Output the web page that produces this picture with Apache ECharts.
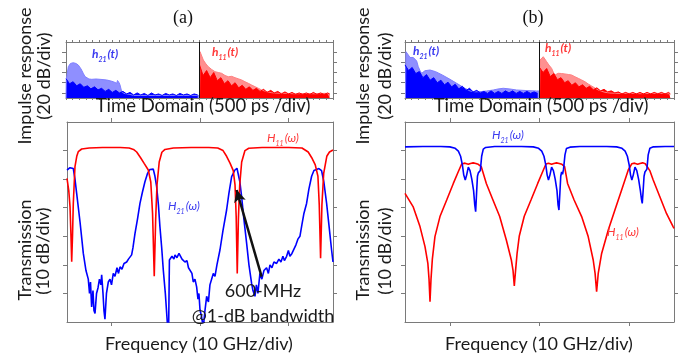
<!DOCTYPE html>
<html><head><meta charset="utf-8">
<script src="https://cdn.jsdelivr.net/npm/echarts@6/dist/echarts.min.js"></script>
<style>html,body{margin:0;padding:0;background:#fff}#c{width:689px;height:358px}</style>
</head><body><div id="c"></div><script>
// ---------- DATA ----------
// Time-domain impulse responses (x: time units 0..30, 500 ps/div; y: dB, 20 dB/div)
const tEnvA21 = [[0,-110],[0.03,-74.6],[0.26,-48.5],[0.5,-42.2],[0.82,-40.7],[1.12,-42.2],[1.38,-45.2],[1.69,-53],[1.94,-61.5],[2.13,-67.8],[2.33,-71.3],[2.58,-72.7],[2.89,-73.3],[3.37,-72.7],[3.82,-73.3],[4.27,-74],[4.57,-74.6],[4.94,-76.2],[5.31,-78],[5.7,-81.1],[5.79,-75.6],[5.88,-74.6],[5.98,-80.5],[6.07,-84.5],[6.26,-97.6],[6.52,-101],[6.82,-102],[7.19,-103],[7.6,-105],[15,-105]];
const tEnvA11 = [[15,-110],[15.06,-19],[15.43,-35.4],[15.73,-43.2],[15.99,-48.5],[16.37,-54],[16.74,-58.3],[17.11,-59.9],[17.49,-61.5],[17.87,-65.8],[18.24,-68.2],[18.62,-67.4],[18.99,-70.1],[19.36,-72.3],[19.74,-74.6],[20.11,-78],[20.48,-81.1],[20.86,-84.5],[21.24,-87.8],[21.61,-90.9],[21.99,-94.3],[22.55,-97.6],[23.11,-99.6],[23.82,-100.6],[24.61,-100.8],[25.73,-101.7],[26.85,-101.1],[27.98,-101.7],[29.1,-100.8],[29.66,-102]];
const tEnvB21 = [[0.05,-110],[0.11,-19],[0.37,-25.5],[0.56,-30.4],[0.75,-32],[0.93,-30.4],[1.11,-28.9],[1.3,-37.3],[1.48,-48.5],[1.67,-56],[1.86,-61.5],[2.04,-57.9],[2.23,-56.4],[2.79,-55],[3.42,-58.3],[4.16,-64.8],[5.02,-73.3],[5.76,-81.1],[6.5,-89],[7.25,-96.2],[7.8,-97.8],[8.36,-97.6],[9.11,-96.2],[9.84,-94.3],[10.37,-92.3],[10.96,-90.9],[11.71,-92.3],[12.45,-94.3],[13.49,-95.3],[14.68,-96.2],[14.94,-96.2]];
const tEnvB11 = [[15,-110],[15.05,-35.4],[15.16,-32],[15.42,-28.9],[15.61,-32.4],[15.8,-38.7],[16.05,-45.2],[16.35,-51.7],[16.53,-58.9],[16.72,-64.8],[16.91,-62.8],[17.09,-61.5],[17.47,-61.9],[17.84,-62.8],[18.21,-63.8],[18.58,-64.8],[18.95,-68.2],[19.32,-71.3],[19.7,-74.6],[20.07,-78],[20.44,-82.5],[20.81,-86.4],[21.18,-90.3],[21.55,-94.3],[21.93,-96.8],[22.3,-98.8],[22.85,-100.2],[23.97,-101.1],[25.08,-100.8],[26.2,-101.5],[27.31,-101.1],[28.43,-100.8],[29.54,-101.7]];
// noise-floor sample times
const tNoise21 = [0,0.4,0.8,1.2,1.6,2,2.4,2.8,3.2,3.6,4,4.4,4.8,5.2,5.6,6,6.4,6.8,7.2,7.6,8,8.4,8.8,9.2,9.6,10,10.4,10.8,11.2,11.6,12,12.4,12.8,13.2,13.6,14,14.4,14.8];
const tNoise11 = [15,15.4,15.8,16.2,16.6,17,17.4,17.8,18.2,18.6,19,19.4,19.8,20.2,20.6,21,21.4,21.8,22.2,22.6,23,23.4,23.8,24.2,24.6,25,25.4,25.8,26.2,26.6,27,27.4,27.8,28.2,28.6,29,29.4,29.6];
const nA21 = [-72,-82,-78,-86,-82,-89,-86,-92,-88,-94,-91,-97,-93,-99,-95,-100,-97,-102,-99,-104,-100,-104,-101,-105,-100,-104,-102,-105,-101,-104,-102,-105,-101,-104,-102,-105,-102,-104];
const nA11 = [-45,-66,-56,-70,-60,-76,-70,-82,-76,-86,-80,-90,-85,-93,-88,-95,-91,-97,-93,-99,-95,-100,-97,-102,-98,-102,-99,-103,-100,-103,-100,-103,-99,-103,-100,-103,-100,-102];
const nB21 = [-45,-56,-50,-62,-58,-70,-64,-75,-70,-80,-75,-84,-79,-88,-83,-92,-87,-95,-91,-98,-95,-100,-97,-101,-96,-101,-97,-101,-96,-100,-96,-101,-97,-101,-97,-101,-98,-101];
const nB11 = [-50,-60,-52,-68,-62,-74,-70,-80,-76,-85,-80,-88,-84,-91,-87,-94,-90,-96,-93,-98,-96,-100,-98,-102,-99,-102,-99,-102,-99,-102,-99,-102,-99,-102,-99,-102,-99,-102];

// Frequency responses (x: GHz 0..30, 10 GHz/div; y: dB, 10 dB/div)
const fA21 = [[0,-16.8],[0.1,-16.2],[0.34,-16],[0.71,-16.3],[0.9,-20],[1.09,-25],[1.47,-35],[1.84,-46],[2.14,-52],[2.4,-55],[2.54,-60],[2.65,-56],[2.78,-64.7],[2.93,-59],[3.04,-66],[3.16,-67],[3.33,-60],[3.5,-58],[3.66,-55],[3.83,-57],[3.91,-53.5],[4.06,-60],[4.17,-66],[4.28,-69],[4.45,-60],[4.66,-56],[4.85,-55],[5.02,-57],[5.22,-53],[5.41,-54],[5.64,-51],[5.81,-53],[5.98,-50.7],[6.2,-51.5],[6.43,-49.5],[6.73,-49],[6.93,-48],[7.1,-48.5],[7.29,-46.5],[7.44,-44],[7.67,-39],[7.95,-34],[8.23,-28.5],[8.51,-24.5],[8.79,-20.9],[9.08,-18],[9.36,-16.6],[9.58,-16.2],[9.73,-16.5],[9.92,-19],[10.11,-22.6],[10.31,-29],[10.48,-36.6],[10.68,-44],[10.86,-51.8],[11.09,-60],[11.31,-70],[11.45,-76],[11.55,-48.3],[11.84,-47],[12.06,-48],[12.18,-46.5],[12.4,-47.5],[12.63,-46],[12.74,-46.5],[12.97,-48],[13.19,-47.5],[13.3,-49],[13.53,-48.5],[13.7,-51],[13.87,-50.6],[14.09,-53],[14.24,-56],[14.43,-55],[14.62,-57.7],[14.77,-62],[14.88,-60],[15.0,-65.8],[15.17,-68],[15.37,-72],[15.56,-66],[15.75,-61],[15.95,-63],[16.12,-57],[16.5,-53],[16.69,-54],[16.91,-50],[17.25,-44.8],[17.59,-38],[18.0,-30.8],[18.26,-25],[18.57,-19.1],[18.94,-16.8],[19.17,-16.2],[19.31,-16.6],[19.5,-21],[19.69,-26],[19.95,-34],[20.26,-42.5],[20.52,-50],[20.82,-56.5],[20.97,-59],[21.2,-61],[21.36,-57],[21.53,-60],[21.76,-53],[21.98,-55],[22.21,-52],[22.51,-51],[22.71,-53],[22.89,-50],[23.11,-51],[23.34,-49],[23.64,-49.5],[23.9,-48],[24.13,-49],[24.35,-47],[24.52,-48.5],[24.77,-47],[24.97,-45],[25.14,-47],[25.37,-46],[25.51,-46],[25.82,-43],[26.04,-41],[26.27,-40],[26.49,-36],[26.72,-32],[27.02,-28.5],[27.28,-23.5],[27.59,-19],[27.85,-17],[28.15,-16.6],[28.41,-16.3],[28.71,-17],[28.97,-21],[29.28,-28.5],[29.54,-36],[29.84,-44.8],[30,-49]];
const fA11 = [[0,-19.7],[0.2,-24],[0.34,-29.6],[0.45,-40],[0.53,-48.9],[0.62,-40],[0.71,-28.5],[0.9,-15.6],[1.1,-12],[1.27,-10.4],[1.66,-9.45],[2.5,-9.1],[4,-8.9],[6,-8.9],[7,-9.1],[7.5,-9.6],[7.86,-10.5],[8.3,-12.5],[8.7,-14.5],[9.17,-16.8],[9.45,-21],[9.65,-32],[9.84,-54],[10.0,-34],[10.15,-22],[10.4,-14],[10.7,-10.6],[11.05,-9.6],[12,-9.1],[14,-8.9],[16,-8.9],[17,-9.1],[17.6,-10],[18.0,-12],[18.4,-14.5],[18.75,-17],[18.95,-22],[19.08,-33],[19.2,-53],[19.33,-34],[19.48,-22],[19.7,-14],[20.07,-10],[20.5,-9.2],[22,-8.9],[25,-8.9],[26.5,-9.1],[27.2,-10.5],[27.6,-12.5],[28.0,-15],[28.3,-19],[28.45,-29],[28.6,-47.7],[28.75,-29],[28.95,-18],[29.3,-12],[29.6,-10.5],[30,-9.8]];
const fB21 = [[0,-8.7],[2,-8.6],[4,-8.6],[5,-8.7],[5.6,-9.2],[5.95,-10.2],[6.2,-12],[6.4,-15],[6.55,-18.5],[6.72,-20.3],[6.88,-18.5],[7.06,-15.8],[7.25,-17],[7.45,-20],[7.65,-24],[7.78,-29],[7.88,-31.4],[7.98,-25],[8.08,-19],[8.18,-17.8],[8.28,-18.5],[8.4,-17],[8.55,-12],[8.73,-9.5],[9.0,-8.9],[10,-8.6],[13,-8.6],[14.3,-8.7],[14.9,-9.2],[15.25,-10.2],[15.5,-12],[15.7,-15],[15.85,-18.5],[16.0,-20.3],[16.17,-18.5],[16.35,-15.8],[16.55,-17],[16.75,-20],[16.95,-24],[17.07,-29],[17.17,-30.8],[17.27,-25],[17.37,-19],[17.47,-17.5],[17.57,-18.3],[17.68,-16.5],[17.84,-11.5],[18.0,-9.3],[18.4,-8.8],[19.5,-8.6],[22.5,-8.6],[23.6,-8.7],[24.2,-9.2],[24.55,-10.2],[24.8,-12],[25.0,-15],[25.15,-18.5],[25.3,-20.3],[25.46,-18.5],[25.65,-15.8],[25.85,-17],[26.05,-20],[26.25,-24],[26.37,-27],[26.46,-28.5],[26.56,-24],[26.66,-19],[26.76,-17.5],[26.86,-18.2],[26.98,-16.5],[27.12,-11.5],[27.31,-9.2],[27.7,-8.7],[29,-8.6],[30,-8.6]];
const fB11 = [[0,-25],[0.19,-25.6],[0.9,-29.6],[1.67,-36.6],[2.23,-43.6],[2.55,-49.5],[2.68,-55],[2.79,-62.9],[2.9,-55],[3.05,-48],[3.34,-40.1],[3.9,-33.1],[4.65,-27.3],[5.39,-21.5],[5.94,-17.4],[6.32,-14.7],[6.69,-14.4],[7.06,-14.8],[7.3,-14.5],[7.6,-14.3],[7.9,-14.5],[8.17,-14.8],[8.5,-15.6],[9.07,-21.5],[9.81,-27.3],[10.56,-33.1],[11.3,-41.3],[11.86,-48.3],[12.05,-52],[12.19,-57.4],[12.33,-52],[12.5,-46],[12.74,-40],[13.3,-33],[14.05,-27.3],[14.8,-21.5],[15.35,-17.4],[15.72,-14.7],[16.0,-14.4],[16.35,-14.8],[16.6,-14.5],[16.9,-14.3],[17.2,-14.5],[17.5,-14.8],[17.8,-15.6],[18.13,-21.5],[18.86,-27.3],[19.7,-33.1],[20.43,-40.1],[20.99,-48.3],[21.2,-53],[21.37,-59.4],[21.55,-53],[21.93,-46],[22.67,-37.8],[23.41,-30.8],[24.16,-23.8],[24.9,-16.8],[25.3,-14.6],[25.6,-14.4],[25.95,-14.8],[26.2,-14.5],[26.5,-14.3],[26.8,-14.6],[27.3,-17],[27.68,-20.3],[28.41,-26.1],[29.16,-32],[29.9,-36.6],[30,-37.2]];

// axis ticks
const freqTicksX = [5, 15, 25];
const freqTicksY = [-60, -50, -40, -30, -20, -10];
const timeTicksY = [-100, -80, -60, -40, -20];
const timeDivider = 15;
// annotation arrow (GHz, dB): tail -> head
const arrowTail = [21.95, -54.1];
const arrowHead = [19.13, -23.8];

// ---------- CHART ----------
const zip = (xs, ys) => xs.map((x, i) => [x, ys[i]]);
const minorT = []; for (let v = 0; v <= 30.001; v += 0.75) minorT.push(+v.toFixed(2));
const AX = '#7a7a7a';
function xAx(g, pos, ticks, len) {
  return {type:'value', gridIndex:g, position:pos, min:0, max:30,
    axisLine:{show:true, onZero:false, lineStyle:{color:AX, width:1}},
    axisTick:{show:true, customValues:ticks, length:len, inside:false, lineStyle:{color:AX, width:1}},
    axisLabel:{show:false}, splitLine:{show:false}};
}
function yAx(g, pos, mn, mx, ticks, len) {
  return {type:'value', gridIndex:g, position:pos, min:mn, max:mx,
    axisLine:{show:true, onZero:false, lineStyle:{color:AX, width:1}},
    axisTick:{show:true, customValues:ticks, length:len, inside:false, lineStyle:{color:AX, width:1}},
    axisLabel:{show:false}, splitLine:{show:false}};
}
const grids = [
  {left:66, top:42, width:267, height:56},
  {left:67, top:122, width:266, height:200},
  {left:405, top:42, width:269, height:56},
  {left:405, top:122, width:269, height:200}
];
const xAxes = [], yAxes = [];
grids.forEach((g, i) => {
  const isTime = (i % 2 === 0);
  xAxes.push(xAx(i, 'bottom', isTime ? minorT : freqTicksX, isTime ? 2 : 4));
  xAxes.push(xAx(i, 'top', isTime ? minorT : freqTicksX, isTime ? 2 : 4));
  yAxes.push(yAx(i, 'left', isTime ? -110 : -70, 0, isTime ? timeTicksY : freqTicksY, 4));
  yAxes.push(yAx(i, 'right', isTime ? -110 : -70, 0, isTime ? timeTicksY : freqTicksY, 4));
});
function ser(g, data, color, width, fill, extra) {
  const s = {type:'line', xAxisIndex:2*g, yAxisIndex:2*g, data:data, symbol:'none', showSymbol:false,
    lineStyle:{color:color, width:width}, itemStyle:{color:color}, clip:true, silent:true, z:2};
  if (fill) s.areaStyle = {color:fill, opacity:1, origin:'start'};
  return Object.assign(s, extra || {});
}
const divider = {markLine:{symbol:'none', silent:true, label:{show:false}, lineStyle:{color:'#111', width:1, type:'solid'}, data:[{xAxis:timeDivider}]}};
const BL = '#0000ff', RD = '#ff0000', LBL = '#8f8fff', LRD = '#ff9090';
const series = [
  ser(0, tEnvA21, '#7f7fff', 1, LBL, divider),
  ser(0, zip(tNoise21, nA21), BL, 1, BL),
  ser(0, tEnvA11, '#ff8080', 1, LRD),
  ser(0, zip(tNoise11, nA11), RD, 1, RD),
  ser(1, fA21, BL, 1.6, null, {markLine:{silent:true, symbol:['none','arrow'], symbolSize:[9,12], label:{show:false},
      lineStyle:{color:'#111', width:2.5, type:'solid'}, data:[[{coord:arrowTail},{coord:arrowHead}]]}}),
  ser(1, fA11, RD, 1.6, null),
  ser(2, tEnvB21, '#7f7fff', 1, LBL, divider),
  ser(2, zip(tNoise21, nB21), BL, 1, BL),
  ser(2, tEnvB11, '#ff8080', 1, LRD),
  ser(2, zip(tNoise11, nB11), RD, 1, RD),
  ser(3, fB11, RD, 1.6, null),
  ser(3, fB21, BL, 1.6, null)
];
const SANS = 'Lato, "Open Sans", sans-serif';
function txt(x, y, s, size, rot, extra) {
  return Object.assign({type:'text', x:x, y:y, rotation:rot || 0, silent:true, z:100,
    style:{text:s, font:size + 'px ' + SANS, fill:'#1a1a1a', align:'center', verticalAlign:'middle'}}, extra || {});
}
function sub(x, y, main, subs, tail, color, bold, size) {
  const w = bold ? 'bold ' : '';
  return {type:'text', x:x, y:y, silent:true, z:100, style:{
    text:'{a|' + main + '}{b|' + subs + '}{a|' + tail + '}', fill:color, align:'left', verticalAlign:'top',
    rich:{a:{font:'italic ' + w + size + 'px ' + SANS, fill:color, verticalAlign:'bottom'},
          b:{font:'italic ' + w + Math.round(size*0.62) + 'px ' + SANS, fill:color, verticalAlign:'bottom', padding:[0,1,-3,0]}}}};
}
const R90 = Math.PI / 2;
const graphic = [
  {type:'text', x:183, y:18, silent:true, style:{text:'(a)', font:'18px "Liberation Serif", serif', fill:'#111', align:'center', verticalAlign:'middle'}},
  {type:'text', x:533, y:18, silent:true, style:{text:'(b)', font:'18px "Liberation Serif", serif', fill:'#111', align:'center', verticalAlign:'middle'}},
  txt(25, 76, 'Impulse response', 18, R90), txt(44, 76, '(20 dB/div)', 18, R90),
  txt(25, 250, 'Transmission', 18, R90), txt(43, 251, '(10 dB/div)', 18, R90),
  txt(363, 76, 'Impulse response', 18, R90), txt(385, 76, '(20 dB/div)', 18, R90),
  txt(363, 250, 'Transmission', 18, R90), txt(385, 251, '(10 dB/div)', 18, R90),
  txt(203, 106, 'Time Domain (500 ps /div)', 18.5), txt(541, 106, 'Time Domain (500 ps /div)', 18.5),
  txt(199, 344, 'Frequency (10 GHz/div)', 18), txt(539, 344, 'Frequency (10 GHz/div)', 18),
  txt(263, 291, '600-MHz', 18), txt(263, 316, '@1-dB bandwidth', 18),
  sub(92, 48, 'h', '21', '(t)', '#3c3cf0', true, 12),
  sub(212, 46, 'h', '11', '(t)', '#ff3a3a', true, 12),
  sub(413, 45, 'h', '21', '(t)', '#3c3cf0', true, 12),
  sub(545, 42, 'h', '11', '(t)', '#ff3a3a', true, 12),
  sub(267, 132, 'H', '11', '(ω)', '#ff3a3a', false, 12),
  sub(168, 200, 'H', '21', '(ω)', '#3c3cf0', false, 12),
  sub(492, 129, 'H', '21', '(ω)', '#3c3cf0', false, 12),
  sub(607, 226, 'H', '11', '(ω)', '#ff3a3a', false, 12)
];
const chart = echarts.init(document.getElementById('c'), null, {renderer:'canvas'});
chart.setOption({animation:false, backgroundColor:'#fff', grid:grids, xAxis:xAxes, yAxis:yAxes, series:series, graphic:graphic});
</script></body></html>
